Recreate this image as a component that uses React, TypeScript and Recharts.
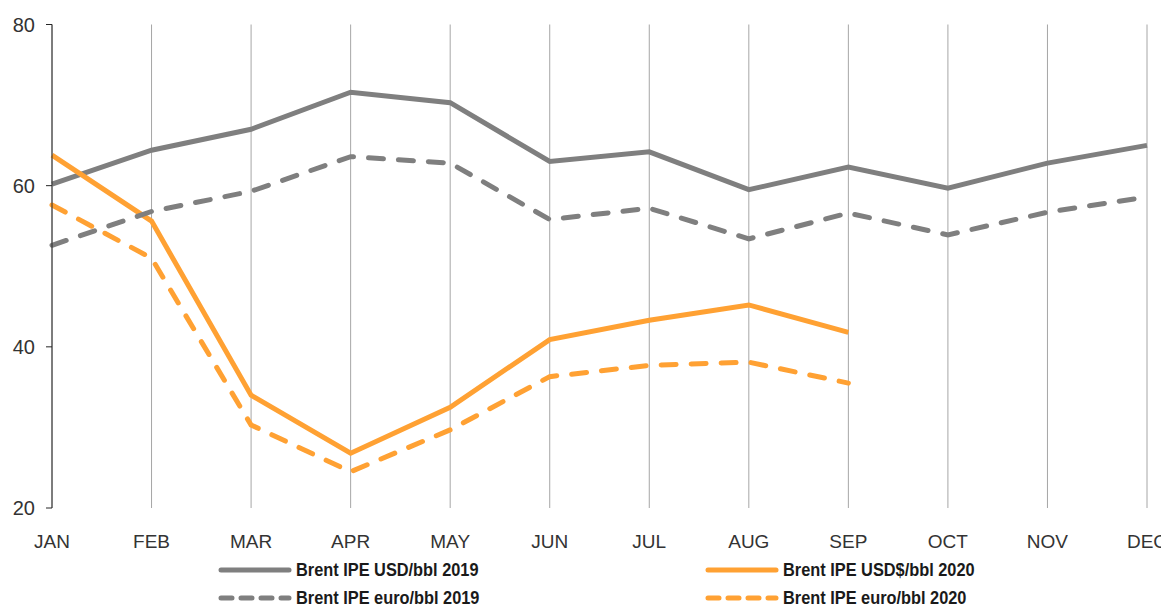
import React from 'react';
import { LineChart, Line, XAxis, YAxis, CartesianGrid, Legend } from 'recharts';

const months = ['JAN', 'FEB', 'MAR', 'APR', 'MAY', 'JUN', 'JUL', 'AUG', 'SEP', 'OCT', 'NOV', 'DEC'];
const usd2019 = [60.2, 64.4, 67.0, 71.6, 70.3, 63.0, 64.2, 59.5, 62.3, 59.7, 62.8, 65.0];
const euro2019 = [52.6, 56.8, 59.3, 63.6, 62.8, 55.8, 57.2, 53.4, 56.6, 53.9, 56.7, 58.6];
const usd2020: (number | null)[] = [63.8, 55.6, 34.0, 26.8, 32.5, 40.9, 43.3, 45.2, 41.8, null, null, null];
const euro2020: (number | null)[] = [57.6, 51.0, 30.3, 24.5, 29.7, 36.3, 37.7, 38.1, 35.5, null, null, null];
const yTicks = [20, 40, 60, 80];

const seriesNames = {
  usd2019: 'Brent IPE USD/bbl 2019',
  usd2020: 'Brent IPE USD$/bbl 2020',
  euro2019: 'Brent IPE euro/bbl 2019',
  euro2020: 'Brent IPE euro/bbl 2020',
};

const GRAY = '#7f7f7f';
const ORANGE = '#ffa133';

const data = months.map((m, i) => ({
  month: m,
  usd2019: usd2019[i],
  euro2019: euro2019[i],
  usd2020: usd2020[i],
  euro2020: euro2020[i],
}));

const legendItems = [
  { key: 'usd2019', color: GRAY, dashed: false, left: 210, top: 2 },
  { key: 'usd2020', color: ORANGE, dashed: false, left: 697, top: 2 },
  { key: 'euro2019', color: GRAY, dashed: true, left: 210, top: 30 },
  { key: 'euro2020', color: ORANGE, dashed: true, left: 697, top: 30 },
];

const CustomLegend = () => (
  <div style={{ position: 'relative', width: 1161, height: 48 }}>
    {legendItems.map((it) => (
      <div
        key={it.key}
        style={{
          position: 'absolute',
          left: it.left,
          top: it.top,
          height: 20,
          display: 'flex',
          alignItems: 'center',
          whiteSpace: 'nowrap',
        }}
      >
        <svg width={76} height={10} style={{ display: 'block' }}>
          <line
            x1={3}
            y1={5}
            x2={71}
            y2={5}
            stroke={it.color}
            strokeWidth={5}
            strokeLinecap="round"
            strokeDasharray={it.dashed ? '11 9' : undefined}
          />
        </svg>
        <span
          style={{
            display: 'inline-block',
            fontFamily: "'Liberation Sans', Arial, sans-serif",
            fontWeight: 'bold',
            fontSize: 19,
            lineHeight: '16px',
            color: '#1a1a1a',
            marginLeft: 2,
            transform: 'scaleX(0.86)',
            transformOrigin: 'left center',
          }}
        >
          {seriesNames[it.key as keyof typeof seriesNames]}
        </span>
      </div>
    ))}
  </div>
);

export default function App() {
  return (
    <div style={{ width: 1161, height: 600, overflow: 'visible' }}>
      <style>{'html { overflow: hidden; } #root { width: 1161px; height: 600px; overflow: visible; } .recharts-surface { overflow: visible; }'}</style>
      <LineChart
        width={1161}
        height={600}
        data={data}
        margin={{ top: 16.5, right: 22, left: 0, bottom: 0 }}
        style={{ overflow: 'visible' }}
      >
        <CartesianGrid horizontal={false} vertical={true} stroke="#a6a6a6" strokeWidth={1} />
        <XAxis
          dataKey="month"
          axisLine={false}
          tickLine={false}
          tickSize={0}
          tickMargin={27}
          height={30}
          interval={0}
          tick={{ fill: '#333333', fontSize: 19, fontFamily: "'Liberation Sans', Arial, sans-serif" }}
        />
        <YAxis
          domain={[20, 80]}
          ticks={yTicks}
          width={44}
          tickSize={6}
          tickMargin={11}
          axisLine={{ stroke: '#262626', strokeWidth: 1 }}
          tickLine={{ stroke: '#262626', strokeWidth: 1 }}
          tick={{ fill: '#333333', fontSize: 20, fontFamily: "'Liberation Sans', Arial, sans-serif" }}
        />
        <Legend
          verticalAlign="bottom"
          height={70}
          wrapperStyle={{ top: 550, left: 0 }}
          content={() => <CustomLegend />}
        />
        <Line
          type="linear"
          dataKey="usd2019"
          name={seriesNames.usd2019}
          stroke={GRAY}
          strokeWidth={5}
          dot={false}
          activeDot={false}
          isAnimationActive={false}
        />
        <Line
          type="linear"
          dataKey="usd2020"
          name={seriesNames.usd2020}
          stroke={ORANGE}
          strokeWidth={5}
          dot={false}
          activeDot={false}
          isAnimationActive={false}
        />
        <Line
          type="linear"
          dataKey="euro2019"
          name={seriesNames.euro2019}
          stroke={GRAY}
          strokeWidth={5}
          strokeDasharray="15 15"
          strokeLinecap="round"
          dot={false}
          activeDot={false}
          isAnimationActive={false}
        />
        <Line
          type="linear"
          dataKey="euro2020"
          name={seriesNames.euro2020}
          stroke={ORANGE}
          strokeWidth={5}
          strokeDasharray="15 15"
          strokeLinecap="round"
          dot={false}
          activeDot={false}
          isAnimationActive={false}
        />
      </LineChart>
    </div>
  );
}
